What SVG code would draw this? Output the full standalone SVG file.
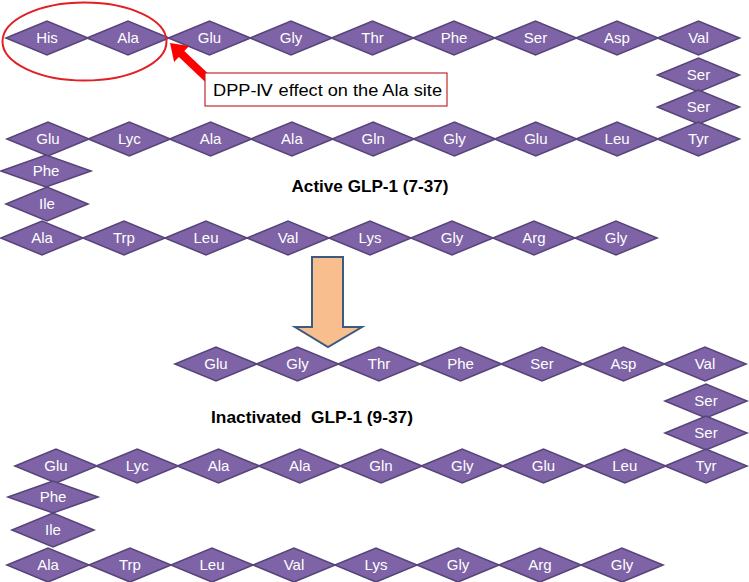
<svg xmlns="http://www.w3.org/2000/svg" width="749" height="582" viewBox="0 0 749 582">
<style>
.d{fill:#7E63A6;stroke:#57457A;stroke-width:1.6}
.t{font-family:"Liberation Sans",Arial,sans-serif;font-size:15px;fill:#ffffff;text-anchor:middle}
.h{font-family:"Liberation Sans",Arial,sans-serif;font-size:17px;font-weight:bold;fill:#000000;text-anchor:middle}
</style>
<defs>
<path id="dm" d="M-41,0 L0,-17 L41,0 L0,17 Z"/>
<path id="dw" d="M-45,0 L0,-16 L45,0 L0,16 Z"/>
</defs>
<rect width="749" height="582" fill="#ffffff"/>

<g id="active">
<g id="a1"><use href="#dm" class="d" x="47" y="38"/><text class="t" x="47" y="43">His</text></g>
<g id="a2"><use href="#dm" class="d" x="128" y="38"/><text class="t" x="128" y="43">Ala</text></g>
<g id="a3"><use href="#dm" class="d" x="209.5" y="38"/><text class="t" x="209.5" y="43">Glu</text></g>
<g id="a4"><use href="#dm" class="d" x="291" y="38"/><text class="t" x="291" y="43">Gly</text></g>
<g id="a5"><use href="#dm" class="d" x="372.5" y="38"/><text class="t" x="372.5" y="43">Thr</text></g>
<g id="a6"><use href="#dm" class="d" x="454" y="38"/><text class="t" x="454" y="43">Phe</text></g>
<g id="a7"><use href="#dm" class="d" x="535.5" y="38"/><text class="t" x="535.5" y="43">Ser</text></g>
<g id="a8"><use href="#dm" class="d" x="617" y="38"/><text class="t" x="617" y="43">Asp</text></g>
<g id="a9"><use href="#dm" class="d" x="698.5" y="38"/><text class="t" x="698.5" y="43">Val</text></g>
<g id="a10"><use href="#dm" class="d" x="698.5" y="75"/><text class="t" x="698.5" y="80">Ser</text></g>
<g id="a11"><use href="#dm" class="d" x="698.5" y="107"/><text class="t" x="698.5" y="112">Ser</text></g>
<g id="a12"><use href="#dm" class="d" x="698.4" y="139"/><text class="t" x="698.4" y="144">Tyr</text></g>
<g id="a13"><use href="#dm" class="d" x="617.1" y="139"/><text class="t" x="617.1" y="144">Leu</text></g>
<g id="a14"><use href="#dm" class="d" x="535.8" y="139"/><text class="t" x="535.8" y="144">Glu</text></g>
<g id="a15"><use href="#dm" class="d" x="454.5" y="139"/><text class="t" x="454.5" y="144">Gly</text></g>
<g id="a16"><use href="#dm" class="d" x="373.2" y="139"/><text class="t" x="373.2" y="144">Gln</text></g>
<g id="a17"><use href="#dm" class="d" x="291.9" y="139"/><text class="t" x="291.9" y="144">Ala</text></g>
<g id="a18"><use href="#dm" class="d" x="210.6" y="139"/><text class="t" x="210.6" y="144">Ala</text></g>
<g id="a19"><use href="#dm" class="d" x="129.3" y="139"/><text class="t" x="129.3" y="144">Lyc</text></g>
<g id="a20"><use href="#dm" class="d" x="48" y="139"/><text class="t" x="48" y="144">Glu</text></g>
<g id="a21"><use href="#dw" class="d" x="46" y="171"/><text class="t" x="46" y="176">Phe</text></g>
<g id="a22"><use href="#dm" class="d" x="47" y="204"/><text class="t" x="47" y="209">Ile</text></g>
<g id="a23"><use href="#dm" class="d" x="42" y="238"/><text class="t" x="42" y="243">Ala</text></g>
<g id="a24"><use href="#dm" class="d" x="124" y="238"/><text class="t" x="124" y="243">Trp</text></g>
<g id="a25"><use href="#dm" class="d" x="206" y="238"/><text class="t" x="206" y="243">Leu</text></g>
<g id="a26"><use href="#dm" class="d" x="288" y="238"/><text class="t" x="288" y="243">Val</text></g>
<g id="a27"><use href="#dm" class="d" x="370" y="238"/><text class="t" x="370" y="243">Lys</text></g>
<g id="a28"><use href="#dm" class="d" x="452" y="238"/><text class="t" x="452" y="243">Gly</text></g>
<g id="a29"><use href="#dm" class="d" x="534" y="238"/><text class="t" x="534" y="243">Arg</text></g>
<g id="a30"><use href="#dm" class="d" x="616" y="238"/><text class="t" x="616" y="243">Gly</text></g>
<text id="active-title" class="h" x="370" y="192" textLength="157" lengthAdjust="spacingAndGlyphs">Active GLP-1 (7-37)</text>
</g>

<g id="inactive">
<g id="b1"><use href="#dm" class="d" x="216" y="364"/><text class="t" x="216" y="369">Glu</text></g>
<g id="b2"><use href="#dm" class="d" x="297.5" y="364"/><text class="t" x="297.5" y="369">Gly</text></g>
<g id="b3"><use href="#dm" class="d" x="379" y="364"/><text class="t" x="379" y="369">Thr</text></g>
<g id="b4"><use href="#dm" class="d" x="460.5" y="364"/><text class="t" x="460.5" y="369">Phe</text></g>
<g id="b5"><use href="#dm" class="d" x="542" y="364"/><text class="t" x="542" y="369">Ser</text></g>
<g id="b6"><use href="#dm" class="d" x="623.5" y="364"/><text class="t" x="623.5" y="369">Asp</text></g>
<g id="b7"><use href="#dm" class="d" x="705" y="364"/><text class="t" x="705" y="369">Val</text></g>
<g id="b8"><use href="#dm" class="d" x="706" y="401"/><text class="t" x="706" y="406">Ser</text></g>
<g id="b9"><use href="#dm" class="d" x="706" y="433"/><text class="t" x="706" y="438">Ser</text></g>
<g id="b10"><use href="#dm" class="d" x="706" y="466"/><text class="t" x="706" y="471">Tyr</text></g>
<g id="b11"><use href="#dm" class="d" x="624.75" y="466"/><text class="t" x="624.75" y="471">Leu</text></g>
<g id="b12"><use href="#dm" class="d" x="543.5" y="466"/><text class="t" x="543.5" y="471">Glu</text></g>
<g id="b13"><use href="#dm" class="d" x="462.25" y="466"/><text class="t" x="462.25" y="471">Gly</text></g>
<g id="b14"><use href="#dm" class="d" x="381" y="466"/><text class="t" x="381" y="471">Gln</text></g>
<g id="b15"><use href="#dm" class="d" x="299.75" y="466"/><text class="t" x="299.75" y="471">Ala</text></g>
<g id="b16"><use href="#dm" class="d" x="218.5" y="466"/><text class="t" x="218.5" y="471">Ala</text></g>
<g id="b17"><use href="#dm" class="d" x="137.25" y="466"/><text class="t" x="137.25" y="471">Lyc</text></g>
<g id="b18"><use href="#dm" class="d" x="56" y="466"/><text class="t" x="56" y="471">Glu</text></g>
<g id="b19"><use href="#dw" class="d" x="53" y="497"/><text class="t" x="53" y="502">Phe</text></g>
<g id="b20"><use href="#dm" class="d" x="53" y="530"/><text class="t" x="53" y="535">Ile</text></g>
<g id="b21"><use href="#dm" class="d" x="48" y="565"/><text class="t" x="48" y="570">Ala</text></g>
<g id="b22"><use href="#dm" class="d" x="130" y="565"/><text class="t" x="130" y="570">Trp</text></g>
<g id="b23"><use href="#dm" class="d" x="212" y="565"/><text class="t" x="212" y="570">Leu</text></g>
<g id="b24"><use href="#dm" class="d" x="294" y="565"/><text class="t" x="294" y="570">Val</text></g>
<g id="b25"><use href="#dm" class="d" x="376" y="565"/><text class="t" x="376" y="570">Lys</text></g>
<g id="b26"><use href="#dm" class="d" x="458" y="565"/><text class="t" x="458" y="570">Gly</text></g>
<g id="b27"><use href="#dm" class="d" x="540" y="565"/><text class="t" x="540" y="570">Arg</text></g>
<g id="b28"><use href="#dm" class="d" x="622" y="565"/><text class="t" x="622" y="570">Gly</text></g>
<text id="inactive-title" class="h" x="312" y="423" textLength="202" lengthAdjust="spacingAndGlyphs" xml:space="preserve">Inactivated  GLP-1 (9-37)</text>
</g>

<g id="highlight">
<ellipse cx="84.5" cy="41.5" rx="82" ry="39" fill="none" stroke="#E31E24" stroke-width="2"/>
</g>

<g id="connectors">
<polygon points="170,43 189.1,46 184.3,51.1 210.7,76.1 205.3,81.9 178.9,56.9 174.1,62" fill="#FF0000"/>
<polygon points="312,257 343,257 343,327 362,327 328,347 295,327 312,327 Z" fill="#F9BE8E" stroke="#3D5A80" stroke-width="2" stroke-linejoin="miter"/>
</g>

<g id="note">
<rect x="205" y="73" width="242" height="33" fill="#ffffff" stroke="#C0282D" stroke-width="1.2"/>
<text x="213" y="96" font-family="'Liberation Sans',Arial,sans-serif" font-size="16" fill="#000000" textLength="229" lengthAdjust="spacingAndGlyphs">DPP-Ⅳ effect on the Ala site</text>
</g>
</svg>
